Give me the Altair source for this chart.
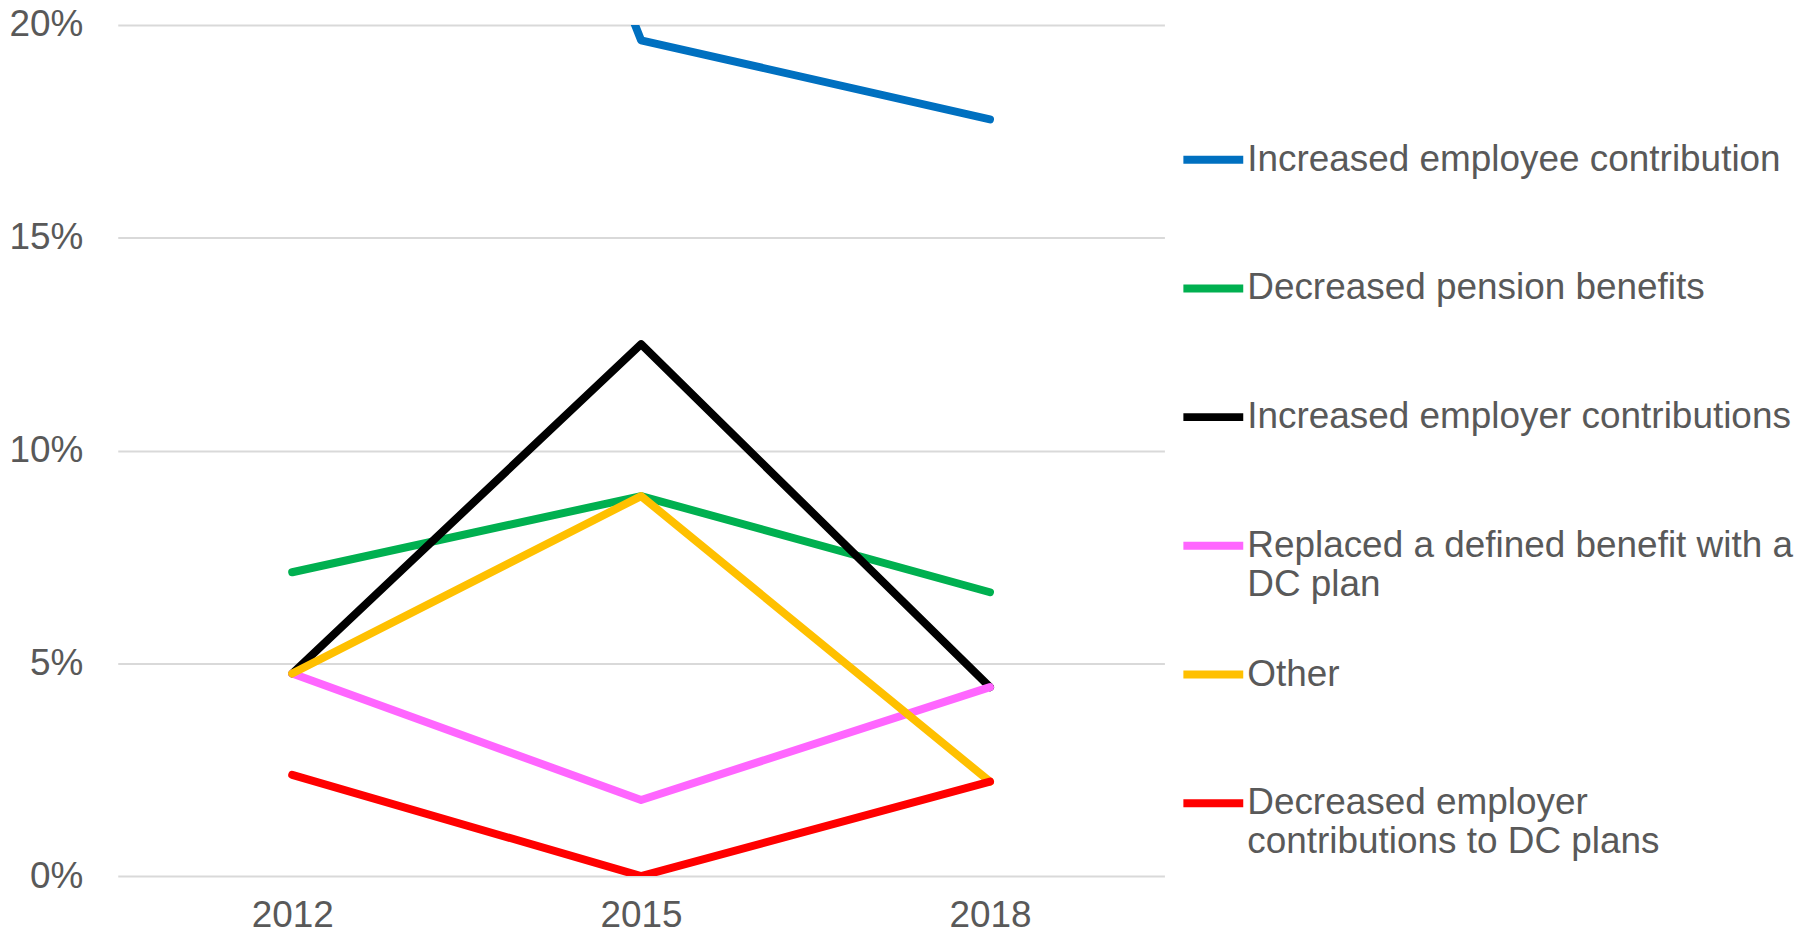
import altair as alt
import pandas as pd

years = ["2012", "2015", "2018"]
series = [
    "Increased employee contribution",
    "Decreased pension benefits",
    "Increased employer contributions",
    "Replaced a defined benefit with a DC plan",
    "Other",
    "Decreased employer contributions to DC plans",
]
colors = ["#0070C0", "#00B050", "#000000", "#FF66FF", "#FFC000", "#FF0000"]

inc_employee = [0.405, 0.1964, 0.1778]
dec_pension = [0.0714, 0.0893, 0.0667]
inc_employer = [0.0476, 0.125, 0.0444]
replaced_db = [0.0476, 0.0179, 0.0444]
other = [0.0476, 0.0893, 0.0222]
dec_dc = [0.0238, 0.0, 0.0222]

values = [inc_employee, dec_pension, inc_employer, replaced_db, other, dec_dc]

rows = []
for i, (s, vals) in enumerate(zip(series, values)):
    for y, v in zip(years, vals):
        rows.append({"series": s, "year": y, "value": v, "idx": i})
df = pd.DataFrame(rows)

label_expr = (
    "datum.label == 'Replaced a defined benefit with a DC plan' ? ['Replaced a defined benefit with a', 'DC plan'] : "
    "datum.label == 'Decreased employer contributions to DC plans' ? ['Decreased employer', 'contributions to DC plans'] : datum.label"
)

FONT = "Liberation Sans"
GRAY = "#595959"

chart = alt.Chart(df).mark_line(
    strokeWidth=8, strokeCap="round", strokeJoin="round", clip=True
).encode(
    x=alt.X(
        "year:O",
        scale=alt.Scale(type="point", padding=0.5),
        axis=alt.Axis(
            title=None, labelAngle=0, domain=False, ticks=False, grid=False,
            labelPadding=22, labelFontSize=37, labelColor=GRAY, labelFont=FONT,
        ),
    ),
    y=alt.Y(
        "value:Q",
        scale=alt.Scale(domain=[0, 0.2], nice=False),
        axis=alt.Axis(
            title=None, values=[0, 0.05, 0.1, 0.15, 0.2], format=".0%",
            domain=False, ticks=False, labelPadding=35, labelFontSize=37,
            labelColor=GRAY, labelFont=FONT, gridColor="#d9d9d9", gridWidth=2,
        ),
    ),
    color=alt.Color(
        "series:N",
        scale=alt.Scale(domain=series, range=colors),
        legend=alt.Legend(
            title=None, orient="none", legendX=1064, legendY=101,
            symbolType="stroke", symbolSize=3600, symbolStrokeWidth=8,
            labelFontSize=37, labelFont=FONT, labelColor=GRAY, labelOffset=0,
            labelLimit=1000, rowPadding=38, gridAlign="all", labelExpr=label_expr,
        ),
    ),
    order=alt.Order("idx:Q"),
).properties(
    width=1049,
    height=853,
    autosize=alt.AutoSizeParams(type="none"),
    padding={"left": 110, "top": 16, "right": 640, "bottom": 60},
).configure_view(stroke=None).configure_text(lineHeight=46).configure_legend(labelFont=FONT)

chart.save("out.html", embed_options={"renderer": "svg", "actions": False})
